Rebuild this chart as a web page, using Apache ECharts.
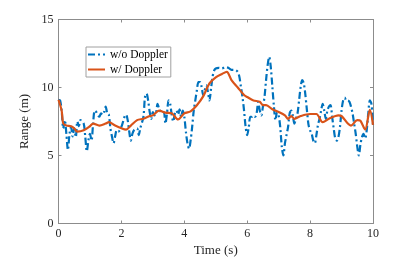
<!DOCTYPE html>
<html>
<head>
<meta charset="utf-8">
<script src="https://cdn.jsdelivr.net/npm/echarts@6/dist/echarts.min.js"></script>
<style>html,body{margin:0;padding:0;background:#fff;}#c{width:415px;height:267px;}</style>
</head>
<body>
<div id="c"></div>
<script>
var xTicks = [0, 2, 4, 6, 8, 10];
var yTicks = [0, 5, 10, 15];

var tBlue = [0,0.05,0.1,0.15,0.2,0.25,0.3,0.35,0.4,0.45,0.5,0.55,0.6,0.65,0.7,0.8,0.85,0.9,0.95,1.0,1.05,1.1,1.15,1.2,1.3,1.35,1.4,1.45,1.5,1.55,1.6,1.65,1.7,1.75,1.8,1.85,1.9,2.0,2.1,2.15,2.2,2.25,2.3,2.35,2.4,2.5,2.55,2.6,2.7,2.75,2.8,2.85,2.9,2.95,3.0,3.05,3.1,3.15,3.2,3.3,3.35,3.4,3.45,3.5,3.55,3.6,3.65,3.7,3.75,3.8,3.85,3.9,3.95,4.0,4.05,4.1,4.15,4.2,4.25,4.3,4.35,4.4,4.45,4.5,4.55,4.6,4.65,4.7,4.75,4.8,4.85,4.9,4.95,5.0,5.1,5.2,5.3,5.4,5.5,5.6,5.7,5.75,5.8,5.85,5.9,5.95,6.0,6.05,6.1,6.15,6.2,6.25,6.3,6.35,6.4,6.45,6.5,6.55,6.6,6.65,6.7,6.75,6.8,6.85,6.9,6.95,7.0,7.05,7.1,7.15,7.2,7.25,7.3,7.35,7.4,7.45,7.5,7.55,7.6,7.65,7.7,7.75,7.8,7.85,7.9,7.95,8.0,8.05,8.1,8.15,8.2,8.25,8.3,8.35,8.4,8.45,8.5,8.55,8.6,8.65,8.7,8.75,8.8,8.85,8.9,8.95,9.0,9.05,9.1,9.15,9.2,9.25,9.3,9.35,9.4,9.45,9.5,9.55,9.6,9.65,9.7,9.75,9.8,9.85,9.9,9.95,10.0];
var woDoppler = [9.1,9.05,8.3,7.0,7.6,6.6,5.4,6.6,7.1,6.4,7.0,6.35,7.5,7.15,7.6,7.35,6.4,5.3,6.1,6.6,6.1,7.35,8.3,8.2,7.85,8.1,8.0,8.2,8.6,8.1,8.0,7.0,6.4,5.9,6.4,6.85,6.75,7.1,7.85,8.0,7.6,6.75,6.1,6.6,6.85,7.0,6.5,7.0,7.85,9.3,9.55,9.05,8.2,7.7,8.2,7.95,8.1,8.8,8.45,8.1,8.2,7.35,8.1,9.05,8.8,8.0,7.5,8.1,8.3,8.0,8.4,7.85,8.3,7.85,6.75,5.9,5.5,6.1,7.1,8.3,9.05,9.8,10.4,10.4,10.05,9.45,9.8,10.15,9.7,9.05,9.9,10.8,11.25,11.4,11.45,11.4,11.5,11.45,11.3,11.3,11.15,10.8,10.05,9.3,8.3,7.1,6.5,7.1,7.85,7.85,7.95,7.85,8.1,8.95,8.3,7.95,8.6,9.3,10.55,11.65,12.25,11.5,10.05,8.6,7.6,8.2,7.95,7.1,5.65,5.0,5.9,6.5,7.1,8.1,8.3,7.95,7.35,7.7,8.1,9.05,10.05,10.55,10.3,9.45,8.3,7.25,6.85,6.6,6.1,5.9,6.5,7.25,7.7,8.3,8.8,8.3,7.7,8.3,8.6,8.7,7.85,7.0,6.25,6.1,6.35,7.1,8.3,9.05,9.25,9.05,9.05,8.95,8.6,8.1,7.35,6.6,5.65,5.0,5.8,6.35,6.6,6.25,6.85,8.1,9.05,8.8,7.25];

var tOrange = [0,0.1,0.15,0.25,0.4,0.5,0.6,0.8,1.0,1.1,1.3,1.5,1.6,1.8,2.0,2.15,2.3,2.5,2.7,2.9,3.0,3.2,3.4,3.6,3.8,4.0,4.2,4.4,4.6,4.8,5.0,5.2,5.35,5.5,5.7,5.9,6.0,6.2,6.4,6.5,6.6,6.8,7.0,7.2,7.3,7.4,7.5,7.7,8.0,8.2,8.4,8.6,8.9,9.0,9.2,9.3,9.5,9.6,9.75,9.9,10.0];
var wDoppler = [9.1,8.3,7.35,7.2,7.15,7.0,6.75,6.85,7.15,7.35,7.2,7.35,7.45,7.2,7.0,6.9,7.2,7.6,7.7,7.9,7.95,8.3,8.15,8.1,7.65,8.1,8.25,8.7,9.35,10.3,10.75,11.0,11.15,10.55,10.0,9.45,9.3,9.05,8.95,8.7,8.7,8.4,8.2,7.95,7.7,7.9,7.7,7.9,8.05,8.05,7.45,7.7,7.95,7.9,7.35,7.2,7.6,7.55,6.9,8.35,7.25];

function pairs(t, v) { return t.map(function (x, i) { return [x, v[i]]; }); }

var font = 'Liberation Serif, Times New Roman, serif';
var axisCol = '#8c8c8c';
var textCol = '#262626';

function axisCommon(extra) {
  var o = {
    type: 'value',
    axisLine: { show: true, onZero: false, lineStyle: { color: axisCol, width: 1 } },
    axisTick: { show: true, inside: true, length: 3, lineStyle: { color: axisCol } },
    splitLine: { show: false },
    axisLabel: { color: textCol, fontFamily: font, fontSize: 12 }
  };
  for (var k in extra) o[k] = extra[k];
  return o;
}

var chart = echarts.init(document.getElementById('c'), null, { renderer: 'canvas' });
chart.setOption({
  animation: false,
  backgroundColor: '#fff',
  grid: { left: 58.5, right: 42, top: 19.5, bottom: 43.5, containLabel: false },
  legend: {
    orient: 'vertical', left: 86, top: 47,
    padding: [1, 3, 1, 1],
    itemWidth: 17, itemHeight: 10, itemGap: 2, itemTextGap: 2,
    backgroundColor: '#fff', borderColor: '#a0a0a0', borderWidth: 1,
    itemStyle: { opacity: 0 },
    textStyle: { fontFamily: font, fontSize: 11.5, color: '#000', lineHeight: 13 },
    data: ['w/o Doppler', 'w/ Doppler']
  },
  xAxis: [
    axisCommon({ min: xTicks[0], max: xTicks[xTicks.length - 1], interval: xTicks[1] - xTicks[0], position: 'bottom',
      name: 'Time (s)', nameLocation: 'middle', nameGap: 18,
      nameTextStyle: { color: textCol, fontFamily: font, fontSize: 13 },
      axisLabel: { color: textCol, fontFamily: font, fontSize: 12, margin: 4 } }),
    axisCommon({ min: xTicks[0], max: xTicks[xTicks.length - 1], interval: xTicks[1] - xTicks[0], position: 'top',
      axisLabel: { show: false } })
  ],
  yAxis: [
    axisCommon({ min: yTicks[0], max: yTicks[yTicks.length - 1], interval: yTicks[1] - yTicks[0], position: 'left',
      name: 'Range (m)', nameLocation: 'middle', nameGap: 17,
      nameTextStyle: { color: textCol, fontFamily: font, fontSize: 13 },
      axisLabel: { color: textCol, fontFamily: font, fontSize: 12, margin: 5 } }),
    axisCommon({ min: yTicks[0], max: yTicks[yTicks.length - 1], interval: yTicks[1] - yTicks[0], position: 'right',
      axisLabel: { show: false } })
  ],
  series: [
    {
      name: 'w/o Doppler', type: 'line', xAxisIndex: 0, yAxisIndex: 0,
      data: pairs(tBlue, woDoppler), symbol: 'none', smooth: 0.3,
      lineStyle: { color: '#0072BD', width: 2.2, type: [7, 3, 2, 3] },
      itemStyle: { color: '#0072BD' }
    },
    {
      name: 'w/ Doppler', type: 'line', xAxisIndex: 0, yAxisIndex: 0,
      data: pairs(tOrange, wDoppler), symbol: 'none', smooth: 0.3,
      lineStyle: { color: '#D95319', width: 2.2 },
      itemStyle: { color: '#D95319' }
    }
  ]
});
</script>
</body>
</html>
